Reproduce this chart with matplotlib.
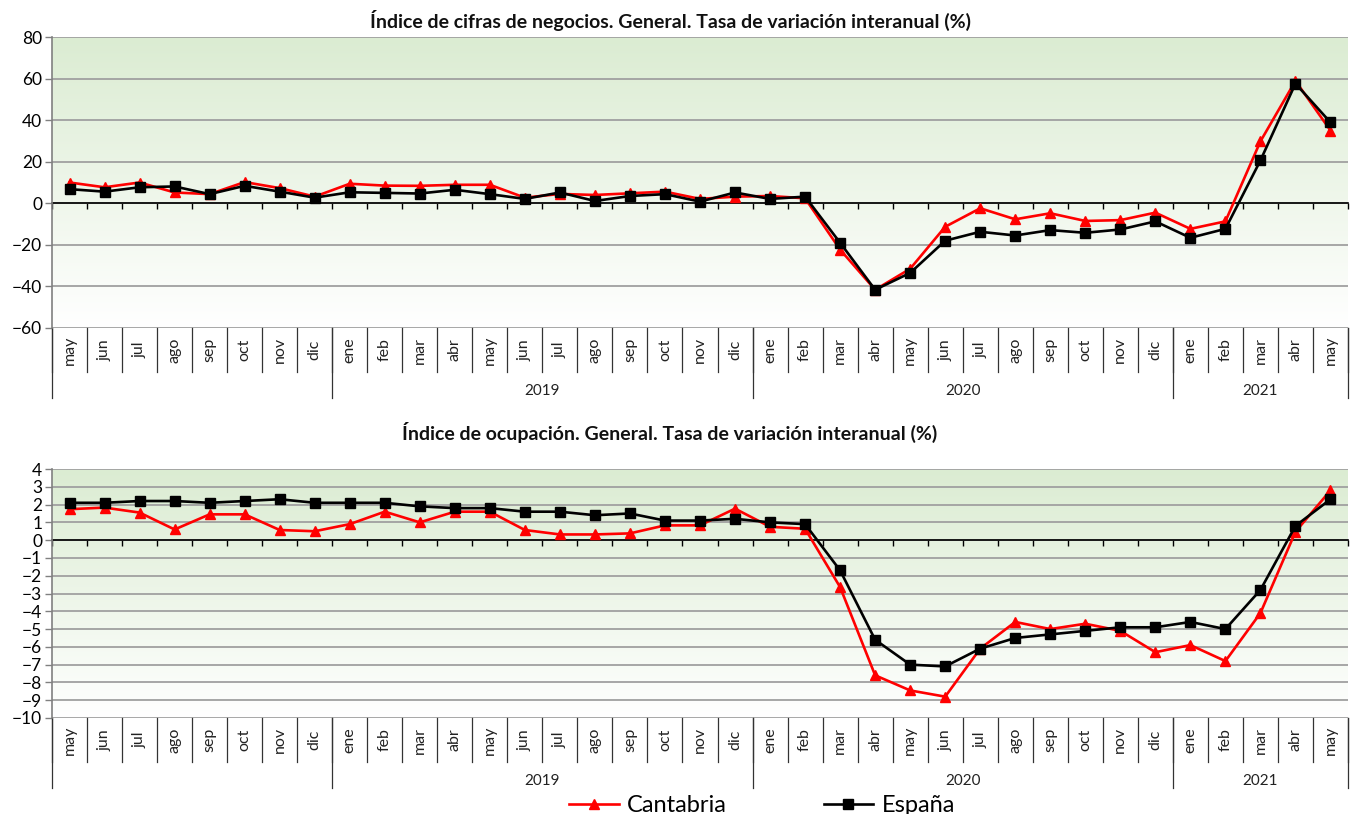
import matplotlib
matplotlib.use("Agg")
import matplotlib.pyplot as plt
from matplotlib.colors import LinearSegmentedColormap
import numpy as np

plt.rcParams['font.family'] = ['Lato', 'DejaVu Sans']

months = ["may", "jun", "jul", "ago", "sep", "oct", "nov", "dic",
          "ene", "feb", "mar", "abr", "may", "jun", "jul", "ago", "sep", "oct", "nov", "dic",
          "ene", "feb", "mar", "abr", "may", "jun", "jul", "ago", "sep", "oct", "nov", "dic",
          "ene", "feb", "mar", "abr", "may"]
years = ["", "2019", "2020", "2021"]
year_len = [8, 12, 12, 5]

# cifras de negocios, tasa interanual (%)
neg_cant = [10.0, 7.7, 10.0, 5.2, 4.4, 10.2, 7.3, 3.2,
            9.4, 8.5, 8.4, 8.9, 8.9, 2.7, 4.5, 4.0, 4.8, 5.6, 2.1, 3.2,
            3.5, 2.4, -22.3, -41.6, -31.5, -11.3, -2.4, -7.7, -4.8, -8.5, -8.1, -4.5,
            -12.3, -8.7, 29.8, 58.9, 35.0]
neg_esp = [6.8, 5.6, 7.7, 8.1, 4.4, 8.4, 5.6, 2.7,
           5.3, 5.0, 4.7, 6.5, 4.4, 2.1, 5.2, 1.1, 3.5, 4.4, 0.8, 5.2,
           2.1, 3.2, -19.0, -41.6, -33.5, -18.0, -13.7, -15.5, -12.9, -14.2, -12.6, -8.7,
           -16.6, -12.3, 20.6, 57.6, 38.9]

# ocupación, tasa interanual (%)
ocu_cant = [1.74, 1.83, 1.55, 0.6, 1.45, 1.45, 0.57, 0.5,
            0.9, 1.6, 1.0, 1.6, 1.6, 0.57, 0.32, 0.32, 0.38, 0.83, 0.83, 1.77,
            0.75, 0.64, -2.64, -7.6, -8.45, -8.8, -6.1, -4.6, -5.0, -4.7, -5.1, -6.3,
            -5.9, -6.8, -4.1, 0.47, 2.8]
ocu_esp = [2.1, 2.1, 2.2, 2.2, 2.1, 2.2, 2.3, 2.1,
           2.1, 2.1, 1.9, 1.8, 1.8, 1.6, 1.6, 1.4, 1.5, 1.1, 1.1, 1.2,
           1.0, 0.9, -1.7, -5.6, -7.0, -7.1, -6.1, -5.5, -5.3, -5.1, -4.9, -4.9,
           -4.6, -5.0, -2.8, 0.8, 2.3]

W, H = 1352, 814
fig = plt.figure(figsize=(W / 100, H / 100), dpi=100)

green = LinearSegmentedColormap.from_list("g", ["#ffffff", "#dbecd2"])


def draw(ax, cant, esp, ymin, ymax, step, title, title_y):
    n = len(months)
    x = np.arange(n)
    ax.set_xlim(-0.5, n - 0.5)
    ax.set_ylim(ymin, ymax)
    grad = np.linspace(0, 1, 256).reshape(-1, 1)
    ax.imshow(grad, aspect='auto', cmap=green, origin='lower',
              extent=[-0.5, n - 0.5, ymin, ymax], zorder=0)
    ax.set_yticks(np.arange(ymin, ymax + step, step))
    ax.yaxis.grid(True, color='#a0a0a0', lw=1.3)
    ax.set_axisbelow(True)

    # category axis crosses at 0
    ax.spines['bottom'].set_position(('data', 0))
    ax.spines['bottom'].set_color('black')
    ax.spines['bottom'].set_linewidth(1.2)
    ax.spines['bottom'].set_zorder(2)
    ax.spines['top'].set_visible(False)
    ax.spines['right'].set_visible(False)
    ax.spines['left'].set_color('#808080')
    ax.spines['left'].set_linewidth(1.2)
    ax.set_xticks(np.arange(n + 1) - 0.5)
    ax.set_xticklabels([])
    ax.tick_params(axis='x', direction='out', length=4, width=1, color='black')
    ax.tick_params(axis='y', direction='out', length=5, width=1, color='#808080',
                   labelsize=12.5, pad=2)

    ax.plot(x, cant, color='#ff0000', lw=1.9, marker='^', ms=6.5, label='Cantabria', zorder=3)
    ax.plot(x, esp, color='black', lw=1.9, marker='s', ms=6.5, label='España', zorder=4)

    # label boxes under the plot area
    h_px = ax.get_position().height * H
    tr = ax.get_xaxis_transform()
    for b in np.arange(n + 1) - 0.5:
        ax.plot([b, b], [0, -44 / h_px], transform=tr, clip_on=False, color='#333333', lw=0.9)
    for i, m in enumerate(months):
        ax.text(i, -22 / h_px, m, transform=tr, rotation=90, ha='center', va='center',
                fontsize=11.5, color='#222222')
    edges = np.concatenate([[0], np.cumsum(year_len)]) - 0.5
    for b in edges:
        ax.plot([b, b], [0, -70 / h_px], transform=tr, clip_on=False, color='#333333', lw=0.9)
    for k, yl in enumerate(years):
        ax.text((edges[k] + edges[k + 1]) / 2, -63 / h_px, yl, transform=tr,
                ha='center', va='center', fontsize=11, color='#222222')

    fig.text(670 / W, 1 - title_y / H, title, ha='center', va='center',
             fontsize=14, fontweight='bold', color='#111111')


ax1 = fig.add_axes([52 / W, 1 - 328 / H, 1296 / W, 291 / H])
draw(ax1, neg_cant, neg_esp, -60, 80, 20,
     "Índice de cifras de negocios. General. Tasa de variación interanual (%)", 20)

ax2 = fig.add_axes([52 / W, 1 - 718 / H, 1296 / W, 249 / H])
draw(ax2, ocu_cant, ocu_esp, -10, 4, 1,
     "Índice de ocupación. General. Tasa de variación interanual (%)", 432)

handles, labels = ax2.get_legend_handles_labels()
fig.legend(handles, labels, loc='center', bbox_to_anchor=(762 / W, 8 / H), ncol=2,
           frameon=False, fontsize=17, handlelength=2.1, columnspacing=4.1,
           handletextpad=0.35, borderpad=0)

fig.savefig("out.png", dpi=100)
